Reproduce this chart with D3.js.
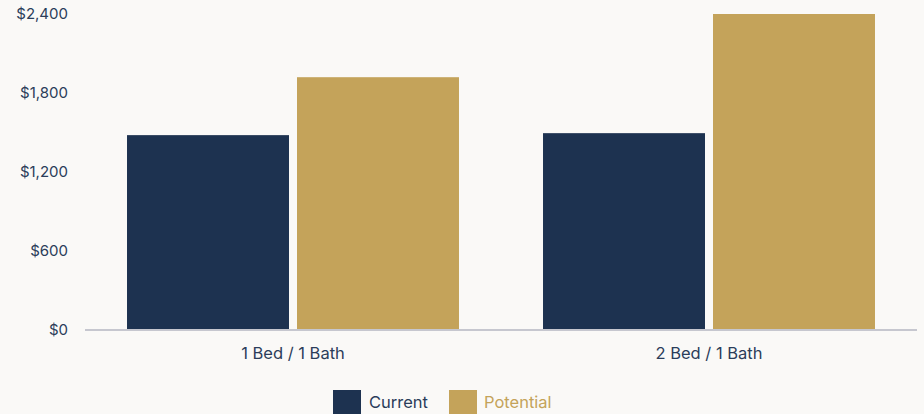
<!DOCTYPE html>
<html><head><meta charset="utf-8">
<script src="https://cdn.jsdelivr.net/npm/d3@7/dist/d3.min.js"></script>
<style>
html,body{margin:0;padding:0;background:#faf9f7;}
svg{display:block;font-family:Inter,"Open Sans",sans-serif;}
</style></head>
<body>
<svg id="chart" width="924" height="414"></svg>
<script>
const categories = ["1 Bed / 1 Bath", "2 Bed / 1 Bath"];
const seriesNames = ["Current", "Potential"];
const currentValues = [1480, 1495];
const potentialValues = [1920, 2400];
const yTicks = [0, 600, 1200, 1800, 2400];
const colors = ["#1d3250", "#c4a35a"];

const svg = d3.select("#chart");
const W = 924, H = 414;
const m = {left: 85, right: 7, top: 14, bottom: 84};
const iw = W - m.left - m.right, ih = H - m.top - m.bottom;
svg.append("rect").attr("width", W).attr("height", H).attr("fill", "#faf9f7");
const g = svg.append("g").attr("transform", `translate(${m.left},${m.top})`);

const x0 = d3.scaleBand().domain(categories).range([0, iw]).paddingInner(0.202).paddingOuter(0.101);
const x1 = d3.scaleBand().domain(seriesNames).range([0, x0.bandwidth()]).paddingInner(8/170);
const y = d3.scaleLinear().domain([0, 2400]).range([ih, 0]);
const color = d3.scaleOrdinal().domain(seriesNames).range(colors);

const data = categories.map((c, i) => ({cat: c, vals: [
  {s: "Current", v: currentValues[i]}, {s: "Potential", v: potentialValues[i]}]}));

const grp = g.selectAll(".grp").data(data).join("g")
  .attr("transform", d => `translate(${x0(d.cat)},0)`);
grp.selectAll("rect").data(d => d.vals).join("rect")
  .attr("x", d => x1(d.s)).attr("width", x1.bandwidth())
  .attr("y", d => y(d.v)).attr("height", d => ih - y(d.v))
  .attr("fill", d => color(d.s));

const yAxis = g.append("g").call(d3.axisLeft(y).tickValues(yTicks)
  .tickFormat(d => "$" + d3.format(",")(d)).tickSize(0).tickPadding(17));
yAxis.select(".domain").remove();
yAxis.selectAll("text").attr("fill", "#2b3d5a").style("font-size", "15px").style("font-family", "Inter,sans-serif");

const xAxis = g.append("g").attr("transform", `translate(0,${ih})`)
  .call(d3.axisBottom(x0).tickSize(0).tickPadding(17));
xAxis.select(".domain").attr("stroke", "#c6c7cf").attr("stroke-width", 2).attr("d", `M0,0H${iw}`);
xAxis.selectAll("text").attr("fill", "#2b3d5a").style("font-size", "16.5px").style("font-family", "Inter,sans-serif");

const legend = svg.append("g");
const legItems = [{s: "Current", x: 333, tx: 369}, {s: "Potential", x: 449, tx: 484}];
legItems.forEach(it => {
  legend.append("rect").attr("x", it.x).attr("y", 390).attr("width", 28).attr("height", 28).attr("fill", color(it.s));
  legend.append("text").attr("x", it.tx).attr("y", 408).text(it.s)
    .attr("fill", it.s === "Current" ? "#2b3d5a" : color(it.s))
    .style("font-size", "16.5px").style("font-family", "Inter,sans-serif");
});
</script>
</body></html>
